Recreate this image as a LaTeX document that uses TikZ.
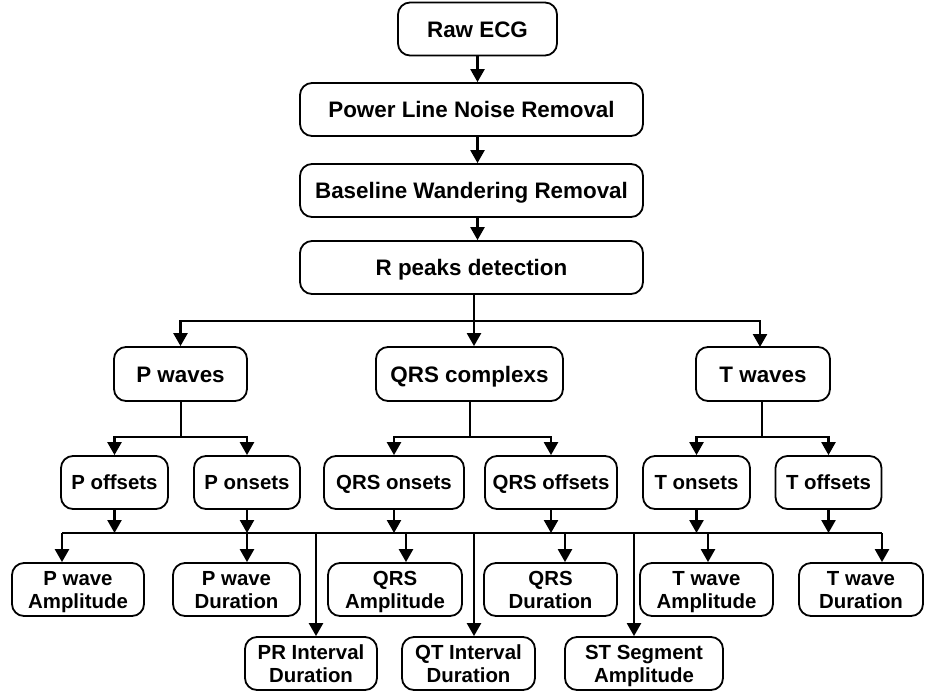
\documentclass[tikz,border=0pt]{standalone}
\usepackage{fontspec}
\setmainfont{Liberation Sans}
\usetikzlibrary{arrows.meta}

\begin{document}
\begin{tikzpicture}[
    x=1pt, y=-1pt,
    stage/.style={draw, line width=1.8pt, rounded corners=12pt, inner sep=0pt, align=center,
        minimum height=53pt, text height=16pt, text depth=0pt,
        font=\fontsize{22.4}{23}\selectfont\bfseries},
    small/.style={stage, text height=14.6pt, font=\fontsize{20.4}{22.7}\selectfont\bfseries},
    pair/.style={small, text height=37.3pt},
    arr/.style={line width=2.4pt, -{Triangle[width=14pt,length=13pt]}},
    wire/.style={line width=2.4pt}
]
    \useasboundingbox (0,0) rectangle (925,696);

    % Preprocessing chain
    \node[stage, minimum width=159pt] (raw) at (477.5,29) {Raw ECG};
    \node[stage, minimum width=343pt] (power) at (471.5,109.5) {Power Line Noise Removal};
    \node[stage, minimum width=343pt] (base) at (471.5,190.5) {Baseline Wandering Removal};
    \node[stage, minimum width=343pt] (rpeak) at (471.5,267.5) {R peaks detection};

    \draw[arr] (raw.south) -- (raw.south |- power.north);
    \draw[arr] (raw.south |- power.south) -- (raw.south |- base.north);
    \draw[arr] (raw.south |- base.south) -- (raw.south |- rpeak.north);

    % Waves
    \node[stage, minimum width=133pt, minimum height=54pt] (pwave) at (180.5,374) {P waves};
    \node[stage, minimum width=187pt, minimum height=54pt] (qrs) at (469.5,374) {QRS complexs};
    \node[stage, minimum width=134pt, minimum height=54pt] (twave) at (763,374) {T waves};

    \coordinate (split) at (474,321);
    \draw[wire] (split |- rpeak.south) -- (split);
    \draw[arr] (split) -| (pwave.north);
    \draw[arr] (split) -- (split |- qrs.north);
    \draw[arr] (split) -| (760,347);

    % Onsets and offsets
    \node[small, minimum width=107pt] (poff) at (114.5,482.5) {P offsets};
    \node[small, minimum width=106pt] (pon) at (247,482.5) {P onsets};
    \node[small, minimum width=140pt] (qon) at (394,482.5) {QRS onsets};
    \node[small, minimum width=132pt] (qoff) at (551,482.5) {QRS offsets};
    \node[small, minimum width=107pt] (ton) at (696.5,482.5) {T onsets};
    \node[small, minimum width=106pt] (toff) at (828.5,482.5) {T offsets};

    \coordinate (psplit) at (181,437);
    \coordinate (qsplit) at (470,437);
    \coordinate (tsplit) at (762,437);
    \draw[wire] (psplit |- pwave.south) -- (psplit);
    \draw[arr] (psplit) -| (poff.north);
    \draw[arr] (psplit) -| (pon.north);
    \draw[wire] (qsplit |- qrs.south) -- (qsplit);
    \draw[arr] (qsplit) -| (qon.north);
    \draw[arr] (qsplit) -| (qoff.north);
    \draw[wire] (tsplit |- twave.south) -- (tsplit);
    \draw[arr] (tsplit) -| (ton.north);
    \draw[arr] (tsplit) -| (toff.north);

    % Features
    \node[pair, minimum width=132pt] (pamp) at (78,589.5) {P wave\\Amplitude};
    \node[pair, minimum width=127pt] (pdur) at (236.5,589.5) {P wave\\Duration};
    \node[pair, minimum width=134pt] (qamp) at (395,589.5) {QRS\\Amplitude};
    \node[pair, minimum width=133pt] (qdur) at (550.5,589.5) {QRS\\Duration};
    \node[pair, minimum width=133pt] (tamp) at (706.5,589.5) {T wave\\Amplitude};
    \node[pair, minimum width=124pt] (tdur) at (861,589.5) {T wave\\Duration};
    \node[pair, minimum width=132pt] (print) at (311,663.5) {PR Interval\\Duration};
    \node[pair, minimum width=133pt] (qtint) at (468.5,663.5) {QT Interval\\Duration};
    \node[pair, minimum width=158pt] (stseg) at (644,663.5) {ST Segment\\Amplitude};

    % Common bus
    \coordinate (busL) at (62,533);
    \coordinate (busR) at (882,533);
    \draw[wire] (busL) -- (busR);

    \draw[arr] (poff.south) -- (poff.south |- busL);
    \draw[arr] (pon.south) -- (pon.south |- busL);
    \draw[arr] (qon.south) -- (qon.south |- busL);
    \draw[arr] (qoff.south) -- (qoff.south |- busL);
    \draw[arr] (ton.south) -- (ton.south |- busL);
    \draw[arr] (toff.south) -- (toff.south |- busL);

    \coordinate (tapqa) at (406,533);
    \coordinate (tapqd) at (565,533);
    \coordinate (tapta) at (708,533);
    \coordinate (tappr) at (316,533);
    \coordinate (tapqt) at (474,533);
    \coordinate (tapst) at (634,533);

    \draw[arr] (busL) -- (busL |- pamp.north);
    \draw[arr] (pon.south |- busL) -- (pon.south |- pdur.north);
    \draw[arr] (tapqa) -- (tapqa |- qamp.north);
    \draw[arr] (tapqd) -- (tapqd |- qdur.north);
    \draw[arr] (tapta) -- (tapta |- tamp.north);
    \draw[arr] (busR) -- (busR |- tdur.north);
    \draw[arr] (tappr) -- (tappr |- print.north);
    \draw[arr] (tapqt) -- (tapqt |- qtint.north);
    \draw[arr] (tapst) -- (tapst |- stseg.north);

\end{tikzpicture}
\end{document}
